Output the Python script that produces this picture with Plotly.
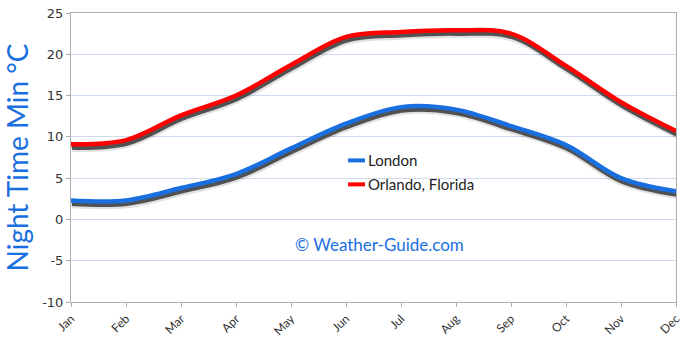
import plotly.graph_objects as go

months = ["Jan", "Feb", "Mar", "Apr", "May", "Jun", "Jul", "Aug", "Sep", "Oct", "Nov", "Dec"]
london = [2.3, 2.3, 3.8, 5.5, 8.6, 11.6, 13.6, 13.3, 11.3, 9.0, 5.0, 3.4]
orlando = [9.1, 9.6, 12.6, 15.0, 18.7, 22.1, 22.7, 22.9, 22.5, 18.6, 14.2, 10.7]
y_ticks = [-10, -5, 0, 5, 10, 15, 20, 25]

x = list(range(len(months)))

fig = go.Figure()

series = [("London", london, "#1a6fe0"), ("Orlando, Florida", orlando, "#ff0000")]

# soft drop shadow under each line
for name, vals, col in series:
    fig.add_trace(go.Scatter(
        x=[v + 0.02 for v in x], y=[v - 0.45 for v in vals], mode="lines",
        line=dict(color="rgba(0,0,0,0.12)", width=8, shape="spline", smoothing=1.0),
        hoverinfo="skip", showlegend=False))
    fig.add_trace(go.Scatter(
        x=[v + 0.015 for v in x], y=[v - 0.4 for v in vals], mode="lines",
        line=dict(color="rgba(55,55,55,0.85)", width=4.5, shape="spline", smoothing=1.0),
        hoverinfo="skip", showlegend=False))

for name, vals, col in series:
    fig.add_trace(go.Scatter(
        x=x, y=vals, mode="lines", name=name, showlegend=False,
        line=dict(color=col, width=4.5, shape="spline", smoothing=1.0)))

# compact legend with short line swatches
for i, (name, vals, col) in enumerate(series):
    yy = 0.49 - i * 0.083
    fig.add_shape(type="line", xref="paper", yref="paper",
                  x0=0.458, x1=0.486, y0=yy, y1=yy,
                  line=dict(color=col, width=4))
    fig.add_annotation(xref="paper", yref="paper", x=0.487, y=yy, text=name,
                       xanchor="left", yanchor="middle", showarrow=False,
                       font=dict(family="Lato", size=15, color="#222"))

fig.add_annotation(x=5.6, y=-3.0, text="© Weather-Guide.com", showarrow=False,
                   font=dict(family="Lato", size=17, color="#1a6fe0"))

fig.update_layout(
    width=690, height=340,
    margin=dict(l=71, r=14, t=13, b=38),
    paper_bgcolor="white", plot_bgcolor="white",
    font=dict(family="DejaVu Sans", color="#333"),
    showlegend=False,
    xaxis=dict(range=[0, 11], tickmode="array", tickvals=x, ticktext=months,
               tickangle=-45, ticks="outside", ticklen=4, tickcolor="#aaa",
               showgrid=False, showline=True, linecolor="#b0b0b0", mirror=True,
               tickfont=dict(family="Lato", size=12, color="#333"), zeroline=False,
               automargin=False),
    yaxis=dict(range=[-10, 25], tickmode="array", tickvals=y_ticks,
               ticktext=[str(v) for v in y_ticks],
               ticks="outside", ticklen=4, tickcolor="#aaa",
               showgrid=True, gridcolor="#cfdcf0", gridwidth=1,
               showline=True, linecolor="#b0b0b0", mirror=True, zeroline=False,
               tickfont=dict(family="DejaVu Sans", size=13, color="#333"),
               automargin=False,
               title=dict(text="Night Time Min °C", standoff=6,
                          font=dict(family="Lato", size=28, color="#1a6fe0"))),
)

fig.write_html("out.html")
